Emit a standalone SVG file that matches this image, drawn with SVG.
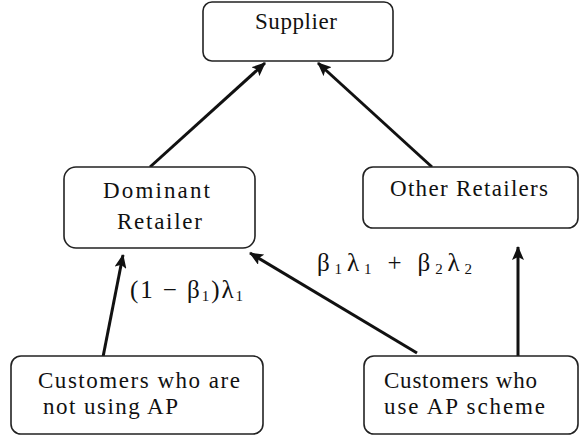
<svg xmlns="http://www.w3.org/2000/svg" width="579" height="439" viewBox="0 0 579 439">
<style>
.box{fill:#fff;stroke:#222;stroke-width:1.6}
.t{font-family:'Liberation Serif','Times New Roman','DejaVu Serif',serif;font-size:23px;fill:#111}
.m{font-family:'Liberation Serif','Times New Roman','DejaVu Serif',serif;font-size:25px;fill:#111}
.sub{font-size:15px}
.edge{stroke:#111;stroke-width:3;fill:none;marker-end:url(#ah)}
</style>
<defs>
<marker id="ah" markerUnits="userSpaceOnUse" markerWidth="14" markerHeight="12" refX="13" refY="6" orient="auto">
<path d="M0,0 L14,6 L0,12 L3,6 Z" fill="#111"/>
</marker>
</defs>
<rect width="579" height="439" fill="#fff"/>
<g id="edges">
<line class="edge" x1="150" y1="167" x2="265" y2="63"/>
<line class="edge" x1="432" y1="167" x2="318" y2="63"/>
<line class="edge" x1="103" y1="357" x2="123" y2="255"/>
<line class="edge" x1="417" y1="353" x2="250" y2="253"/>
<line class="edge" x1="518" y1="356" x2="518" y2="247"/>
</g>
<g id="supplier">
<rect class="box" x="203" y="2" width="190" height="59" rx="9"/>
<text class="t" x="255" y="29" textLength="82" lengthAdjust="spacing">Supplier</text>
</g>
<g id="dominant">
<rect class="box" x="64" y="167" width="191" height="81" rx="12"/>
<text class="t" x="103" y="198" textLength="107" lengthAdjust="spacing">Dominant</text>
<text class="t" x="117" y="229" textLength="85" lengthAdjust="spacing">Retailer</text>
</g>
<g id="other">
<rect class="box" x="363" y="167" width="215" height="61" rx="10"/>
<text class="t" x="390" y="196" textLength="158" lengthAdjust="spacing">Other Retailers</text>
</g>
<g id="notusing">
<rect class="box" x="11" y="356" width="252" height="78" rx="10"/>
<text class="t" x="38" y="388" textLength="202" lengthAdjust="spacing">Customers who are</text>
<text class="t" x="43" y="414" textLength="135" lengthAdjust="spacing">not using AP</text>
</g>
<g id="useap">
<rect class="box" x="364" y="356" width="214" height="78" rx="10"/>
<text class="t" x="384" y="388" textLength="153" lengthAdjust="spacing">Customers who</text>
<text class="t" x="384" y="414" textLength="161" lengthAdjust="spacing">use AP scheme</text>
</g>
<g id="labels">
<text class="m" x="130" y="298" textLength="113" lengthAdjust="spacing">(1 − β<tspan class="sub" dy="3">1</tspan><tspan dy="-3">)λ</tspan><tspan class="sub" dy="3">1</tspan></text>
<text class="m" x="317" y="271" textLength="155" lengthAdjust="spacing">β<tspan class="sub" dy="3">1</tspan><tspan dy="-3">λ</tspan><tspan class="sub" dy="3">1</tspan><tspan dy="-3"> + β</tspan><tspan class="sub" dy="3">2</tspan><tspan dy="-3">λ</tspan><tspan class="sub" dy="3">2</tspan></text>
</g>
</svg>
